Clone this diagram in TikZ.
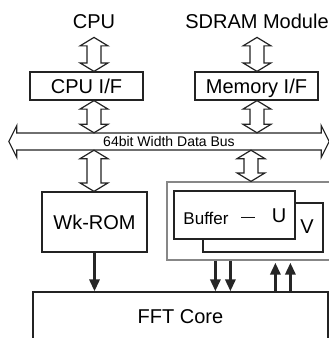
\documentclass[tikz,border=0pt]{standalone}
\usepackage{fontspec}
\setmainfont{Liberation Sans}
\usetikzlibrary{calc,arrows.meta}
\definecolor{linegray}{RGB}{35,35,35}
\definecolor{panelgray}{RGB}{135,135,135}

% hollow double arrow, #1 upper tip, #2 lower tip
\newcommand{\vbus}[2]{%
  \coordinate (vA) at (#1); \coordinate (vB) at (#2);
  \draw[hollow] (vA) -- ($(vA)+(14,8.5)$) -- ($(vA)+(7,8.5)$) -- ($(vB)+(7,-8.5)$)
    -- ($(vB)+(14,-8.5)$) -- (vB) -- ($(vB)+(-14,-8.5)$) -- ($(vB)+(-7,-8.5)$)
    -- ($(vA)+(-7,8.5)$) -- ($(vA)+(-14,8.5)$) -- cycle;}
% hollow double arrow, #1 left tip, #2 right tip
\newcommand{\hbus}[2]{%
  \coordinate (hA) at (#1); \coordinate (hB) at (#2);
  \draw[hollow] (hA) -- ($(hA)+(8,-16)$) -- ($(hA)+(8,-8.5)$) -- ($(hB)+(-8,-8.5)$)
    -- ($(hB)+(-8,-16)$) -- (hB) -- ($(hB)+(-8,16)$) -- ($(hB)+(-8,8.5)$)
    -- ($(hA)+(8,8.5)$) -- ($(hA)+(8,16)$) -- cycle;}

\begin{document}
\begin{tikzpicture}[x=1pt, y=-1pt,
    every node/.style={font=\fontsize{20}{22}\selectfont, text=black},
    heading/.style={inner sep=2pt, anchor=base},
    block/.style={draw=linegray, line width=1.2pt, fill=white, text depth=0pt, inner sep=0pt},
    hollow/.style={draw=linegray, line width=1.2pt, fill=white, line join=miter},
    feed/.style={draw=black!85, line width=3pt, -{Triangle[length=12pt,width=10pt]}}]
  \useasboundingbox (0,0) rectangle (329,338);

  % sources
  \node[heading] (cpu) at (94,28) {CPU};
  \node[heading] (sdram) at (257,28) {SDRAM Module};
  \node[block, minimum width=113pt, minimum height=28pt] (cpuif) at (86.5,86) {CPU I/F};
  \node[block, minimum width=123pt, minimum height=28pt] (memif) at (256.5,86) {Memory I/F};

  % data bus
  \node[minimum width=320pt, minimum height=17pt, inner sep=0pt] (bus) at (169,141.5) {};
  \hbus{bus.west}{bus.east}
  \node[font=\fontsize{14}{16}\selectfont, text depth=0pt, inner sep=0pt] (busname) at (bus) {64bit Width Data Bus};

  % lower blocks
  \node[block, minimum width=105pt, minimum height=60pt] (wkrom) at (94.5,222) {Wk-ROM};
  \node[block, draw=panelgray, minimum width=173pt, minimum height=78pt] (panel) at (253.5,221) {};
  \node[block, minimum width=120pt, minimum height=49pt] (bufv) at (263,227.5) {};
  \node[block, minimum width=121pt, minimum height=48pt] (bufu) at (234.5,215) {};
  \node[heading, font=\fontsize{17}{20}\selectfont] (bufname) at (206,224) {Buffer};
  \node[heading, font=\fontsize{14}{16}\selectfont] (dash) at (248,221) {\textemdash};
  \node[heading] (uname) at (279,222) {U};
  \node[heading] (vname) at (307,233) {V};
  \node[block, minimum width=295pt, minimum height=50pt] (fft) at (180.5,317) {FFT Core};

  % hollow links
  \coordinate (tap) at ($(sdram.south)+(-6,0)$);
  \vbus{$(cpu.south)+(0,7)$}{cpu.south |- cpuif.north}
  \vbus{$(sdram.south)+(0,7)$}{sdram.south |- memif.north}
  \vbus{cpu.south |- cpuif.south}{cpu.south |- bus.north}
  \vbus{sdram.south |- memif.south}{sdram.south |- bus.north}
  \vbus{cpu.south |- bus.south}{cpu.south |- wkrom.north}
  \vbus{tap |- bus.south}{tap |- panel.north}

  % core links
  \draw[feed] (wkrom.south) -- (wkrom.south |- fft.north);
  \foreach \dx [count=\i] in {49,64} {
    \coordinate (dn\i) at ([xshift=\dx pt]panel.south west);
    \draw[feed] (dn\i) -- (dn\i |- fft.north);
  }
  \foreach \dx [count=\i] in {109,124} {
    \coordinate (up\i) at ([xshift=\dx pt, yshift=-2pt]panel.south west);
    \draw[feed] (up\i |- fft.north) -- (up\i);
  }
\end{tikzpicture}
\end{document}
